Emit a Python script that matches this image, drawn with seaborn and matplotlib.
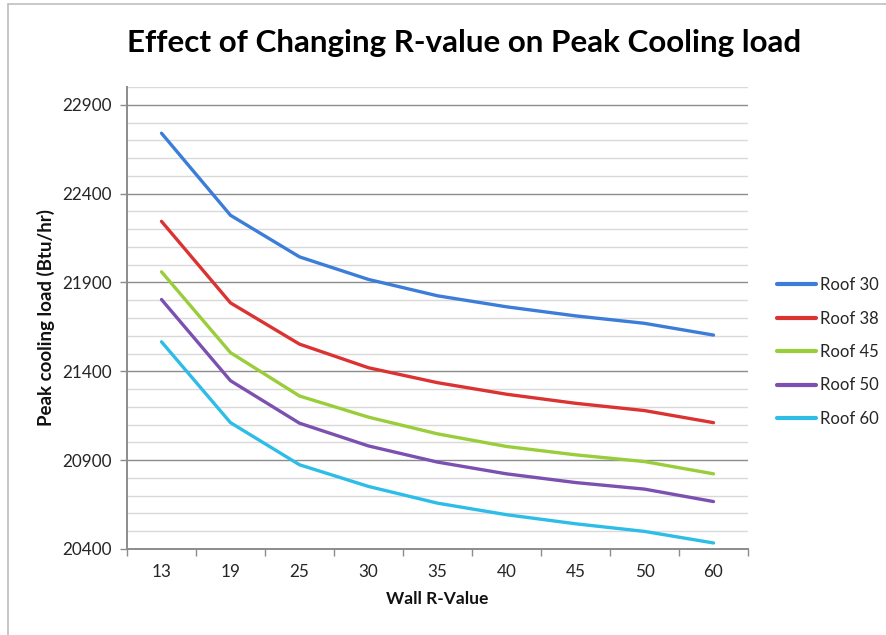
import matplotlib
matplotlib.use("Agg")
import matplotlib.pyplot as plt
import seaborn as sns
import pandas as pd
import numpy as np
from matplotlib.lines import Line2D

wall_r = ["13", "19", "25", "30", "35", "40", "45", "50", "60"]
roof_30 = [22740, 22278, 22044, 21917, 21825, 21763, 21712, 21670, 21604]
roof_38 = [22244, 21785, 21553, 21420, 21336, 21271, 21220, 21179, 21111]
roof_45 = [21960, 21505, 21261, 21142, 21048, 20977, 20930, 20892, 20823]
roof_50 = [21804, 21347, 21108, 20980, 20889, 20823, 20774, 20737, 20667]
roof_60 = [21566, 21111, 20874, 20752, 20658, 20593, 20542, 20499, 20434]
series_names = ["Roof 30", "Roof 38", "Roof 45", "Roof 50", "Roof 60"]
colors = ["#3b7dd8", "#db3232", "#9acd3a", "#7c50b0", "#2dbde6"]
y_ticks = [20400, 20900, 21400, 21900, 22400, 22900]

rows = []
for name, vals in zip(series_names, [roof_30, roof_38, roof_45, roof_50, roof_60]):
    for x, v in zip(wall_r, vals):
        rows.append({"Wall R-Value": x, "Load": v, "Series": name})
df = pd.DataFrame(rows)

sns.set_theme(style="white")
plt.rcParams["font.family"] = ["Lato", "DejaVu Sans"]

fig = plt.figure(figsize=(8.86, 6.35), dpi=100)
ax = fig.add_axes([127/886, 1-549/635, (748-127)/886, (549-87)/635])

sns.lineplot(data=df, x="Wall R-Value", y="Load", hue="Series",
             palette=colors, linewidth=2.4, sort=False, ax=ax, legend=False)

ax.set_xlim(-0.5, len(wall_r)-0.5)
ax.set_ylim(20400, 23000)
ax.set_yticks(y_ticks)
ax.set_yticklabels([str(t) for t in y_ticks])
ax.set_yticks(np.arange(20400, 23001, 100), minor=True)
ax.set_xticks(range(len(wall_r)))
ax.set_xticklabels(wall_r)
ax.set_xticks(np.arange(-0.5, len(wall_r), 1.0), minor=True)

ax.grid(axis="y", which="minor", color="#d9d9d9", linewidth=1.0)
ax.grid(axis="y", which="major", color="#8c8c8c", linewidth=1.0)
ax.set_axisbelow(True)

ax.tick_params(axis="x", which="major", length=0, pad=11, labelsize=12.3, labelcolor="#262626")
ax.tick_params(axis="x", which="minor", bottom=True, length=5, width=1, color="#8c8c8c", direction="out")
ax.tick_params(axis="y", which="major", left=True, length=5, width=1, color="#8c8c8c", direction="out",
               pad=6, labelsize=12.3, labelcolor="#262626")
ax.tick_params(axis="y", which="minor", left=False)

for s in ["top", "right"]:
    ax.spines[s].set_visible(False)
for s in ["left", "bottom"]:
    ax.spines[s].set_color("#8c8c8c")
    ax.spines[s].set_linewidth(1.4)

ax.set_xlabel("Wall R-Value", fontsize=12.5, fontweight="bold", color="#111111", labelpad=8)
ax.set_ylabel("Peak cooling load (Btu/hr)", fontsize=13.5, fontweight="bold", color="#111111", labelpad=5)

fig.text(464/886, 1-43/635, "Effect of Changing R-value on Peak Cooling load",
         ha="center", va="center", fontsize=22.6, fontweight="bold", color="#000000")

handles = [Line2D([0], [0], color=c, linewidth=3) for c in colors]
fig.legend(handles, series_names, loc="center left", bbox_to_anchor=(777/886, 1-352/635),
           frameon=False, fontsize=12, labelspacing=1.05, handlelength=2.35,
           handletextpad=0.2, borderpad=0, borderaxespad=0, labelcolor="#262626")

# outer chart border (partial, as in screenshot)
fig.add_artist(Line2D([8/886, 8/886], [0, 1-4/635], transform=fig.transFigure, color="#bfbfbf", linewidth=1.2))
fig.add_artist(Line2D([8/886, 1], [1-4/635, 1-4/635], transform=fig.transFigure, color="#bfbfbf", linewidth=1.2))

fig.savefig("out.png", dpi=100)
